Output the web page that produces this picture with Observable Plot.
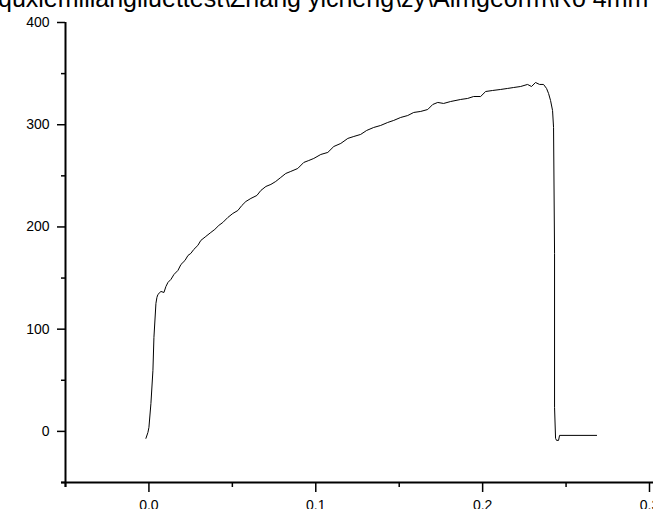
<!DOCTYPE html>
<html>
<head>
<meta charset="utf-8">
<script src="https://cdn.jsdelivr.net/npm/d3@7"></script>
<script src="https://cdn.jsdelivr.net/npm/@observablehq/plot@0.6"></script>
<style>
  html, body { margin: 0; padding: 0; background: #fff; overflow: hidden; }
  #wrap { position: relative; width: 653px; height: 509px; overflow: hidden; }
  #title { position: absolute; left: -2px; top: -14px; white-space: nowrap;
           font-family: "Liberation Sans", Arial, sans-serif; font-size: 25px; line-height: 25px; color: #000; }
  svg { display: block; }
  #chart svg text { font-size: 14px; font-family: "Liberation Sans", Arial, sans-serif; fill: #000; }
</style>
</head>
<body>
<div id="wrap">
  <div id="chart"></div>
  <div id="title">quxiemiliangliuettest\Zhang yicheng\zy\Almgeorm\Ro 4mm</div>
</div>
<script>
const strain = [-0.0018,-0.0006,0.0000,0.0012,0.0024,0.0030,0.0042,0.0048,0.0054,0.0072,
  0.0090,0.0102,0.0114,0.0132,0.0150,0.0174,0.0192,0.0216,0.0234,0.0251,
  0.0269,0.0293,0.0311,0.0341,0.0371,0.0395,0.0419,0.0443,0.0473,0.0503,
  0.0533,0.0557,0.0581,0.0611,0.0647,0.0671,0.0701,0.0731,0.0760,0.0790,
  0.0820,0.0850,0.0892,0.0928,0.0958,0.0988,0.1030,0.1072,0.1108,0.1150,
  0.1192,0.1228,0.1269,0.1305,0.1347,0.1389,0.1431,0.1467,0.1509,0.1551,
  0.1587,0.1629,0.1671,0.1701,0.1731,0.1766,0.1808,0.1868,0.1910,0.1946,
  0.1988,0.2018,0.2060,0.2108,0.2150,0.2186,0.2228,0.2269,0.2293,0.2317,
  0.2341,0.2365,0.2383,0.2395,0.2407,0.2419,0.2425,0.2431,0.2431,0.2437,
  0.2443,0.2455,0.2461,0.2683];
const stress = [-6.8,-1.0,3.9,27.4,59.7,91.9,125.2,131.1,134.0,136.9,
  135.9,141.8,145.7,148.7,153.5,157.5,163.3,167.2,172.1,174.1,
  178.0,181.9,186.8,190.7,194.6,197.6,201.5,204.4,209.3,213.2,
  216.1,221.0,224.9,227.9,230.8,235.7,239.6,241.6,244.5,248.4,
  252.3,254.3,257.2,263.1,265.0,267.0,270.9,272.9,278.7,281.7,
  286.6,288.5,290.5,294.4,297.3,299.3,302.2,304.2,307.1,309.0,
  312.0,313.0,314.9,319.8,321.8,320.8,322.7,324.7,325.7,327.6,
  327.6,332.5,333.5,334.5,335.5,336.4,337.4,339.4,337.4,341.3,
  339.4,339.4,335.5,330.6,323.7,313.9,297.3,174.1,23.5,-6.8,
  -8.8,-8.8,-3.9,-3.9];
const yMajor = [0, 100, 200, 300, 400];
const yMinor = [-50, 50, 150, 250, 350];
const xMajor = [0.0, 0.1, 0.2, 0.3];
const xMinor = [-0.05, 0.05, 0.15, 0.25];

const data = strain.map((x, i) => ({x, y: stress[i]}));

const chart = Plot.plot({
  width: 653,
  height: 509,
  marginLeft: 65,
  marginRight: 0,
  marginTop: 22,
  marginBottom: 27,
  style: {fontFamily: "'Liberation Sans', Arial, sans-serif", fontSize: "14px", color: "#000", background: "#fff"},
  x: {domain: [-0.05, 0.3024]},
  y: {domain: [-50, 400]},
  marks: [
    Plot.axisY({ticks: yMajor, tickSize: 8, tickPadding: 8, strokeWidth: 1.5, fontSize: 14, label: null, tickFormat: d3.format("d")}),
    Plot.axisY({ticks: yMinor, tickSize: 4, strokeWidth: 1.5, text: null, label: null}),
    Plot.axisX({ticks: xMajor, tickSize: 10, tickPadding: 8, strokeWidth: 1.5, fontSize: 14, label: null, tickFormat: d3.format(".1f")}),
    Plot.axisX({ticks: xMinor, tickSize: 5, strokeWidth: 1.5, text: null, label: null}),
    Plot.ruleX([-0.05], {y1: -55, y2: 400, stroke: "#000", strokeWidth: 2}),
    Plot.ruleY([-50], {x1: -0.0524, x2: 0.3024, stroke: "#000", strokeWidth: 2}),
    Plot.line(data, {x: "x", y: "y", stroke: "#000", strokeWidth: 1})
  ]
});
document.getElementById("chart").appendChild(chart);
</script>
</body>
</html>
